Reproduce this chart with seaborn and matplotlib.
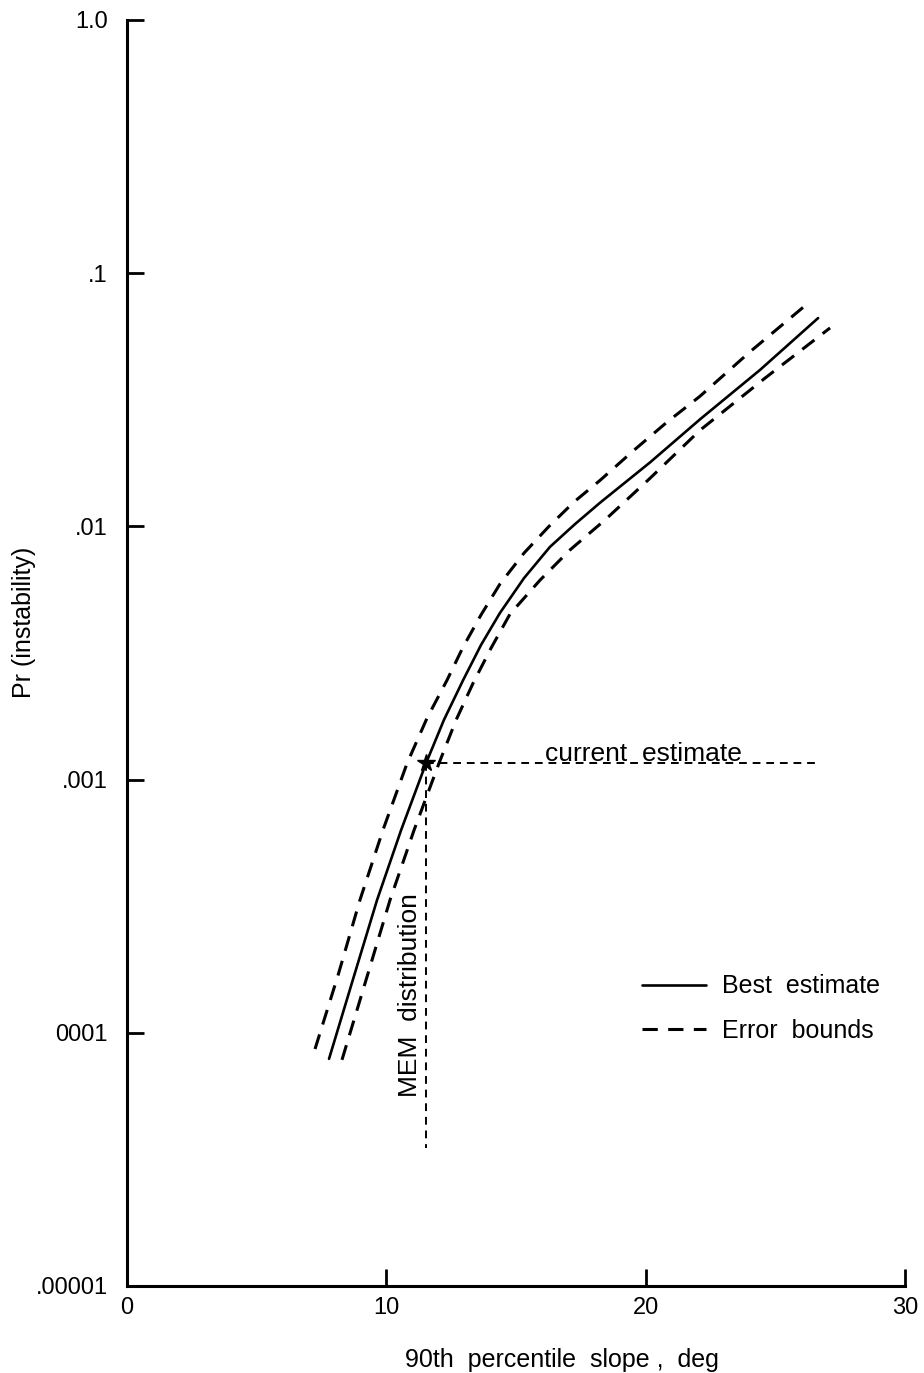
import matplotlib
matplotlib.use("Agg")
import matplotlib.pyplot as plt
from matplotlib.lines import Line2D
import pandas as pd
import seaborn as sns

# Best-estimate curve of instability probability vs. 90th percentile slope
best_slope = [7.79, 8.71, 9.64, 10.57, 11.53, 12.22, 12.96, 13.65, 14.38,
              15.31, 16.31, 17.27, 18.24, 20.17, 22.10, 24.41, 26.65]
best_pr = [7.89e-5, 1.62e-4, 3.34e-4, 6.32e-4, 1.16e-3, 1.72e-3, 2.47e-3,
           3.40e-3, 4.55e-3, 6.25e-3, 8.30e-3, 1.02e-2, 1.24e-2, 1.79e-2,
           2.65e-2, 4.15e-2, 6.65e-2]

# Upper error bound
upper_slope = [7.25, 8.14, 8.98, 9.87, 10.80, 11.57, 12.34, 12.96, 13.65,
               14.38, 15.31, 16.27, 17.24, 18.24, 19.55, 20.82, 22.10, 24.02,
               26.22]
upper_pr = [8.63e-5, 1.69e-4, 3.34e-4, 6.32e-4, 1.16e-3, 1.75e-3, 2.47e-3,
            3.34e-3, 4.47e-3, 5.92e-3, 7.85e-3, 1.00e-2, 1.25e-2, 1.52e-2,
            2.00e-2, 2.58e-2, 3.27e-2, 4.89e-2, 7.55e-2]

# Lower error bound
lower_slope = [8.29, 9.22, 10.14, 11.07, 12.03, 12.69, 13.35, 14.04, 14.77,
               15.93, 17.08, 18.43, 20.17, 22.10, 24.60, 27.11]
lower_pr = [7.82e-5, 1.62e-4, 3.34e-4, 6.32e-4, 1.16e-3, 1.72e-3, 2.41e-3,
            3.31e-3, 4.51e-3, 6.14e-3, 8.07e-3, 1.06e-2, 1.55e-2, 2.40e-2,
            3.85e-2, 6.08e-2]

# Current estimate (MEM distribution)
current_slope = 11.53
current_pr = 1.16e-3
current_line_end = 26.65
mem_line_bottom = 3.5e-5

x_ticks = [0, 10, 20, 30]
x_tick_labels = ["0", "10", "20", "30"]
y_ticks = [1e-5, 1e-4, 1e-3, 1e-2, 1e-1, 1.0]
y_tick_labels = [".00001", "0001", ".001", ".01", ".1", "1.0"]

sns.set_style("ticks")
FONT = ["Liberation Sans Narrow", "Liberation Sans", "DejaVu Sans"]
plt.rcParams["font.family"] = FONT
plt.rcParams["text.color"] = "black"
plt.rcParams["axes.labelcolor"] = "black"

fig = plt.figure(figsize=(9.24, 13.73), dpi=100)
ax = fig.add_axes([127 / 924, 87 / 1373, 778 / 924, 1266 / 1373])

best_df = pd.DataFrame({"slope": best_slope, "pr": best_pr})
upper_df = pd.DataFrame({"slope": upper_slope, "pr": upper_pr})
lower_df = pd.DataFrame({"slope": lower_slope, "pr": lower_pr})

sns.lineplot(data=best_df, x="slope", y="pr", ax=ax, color="black",
             linewidth=1.9, sort=False, estimator=None)
bound_style = (0, (5, 3.4))
sns.lineplot(data=upper_df, x="slope", y="pr", ax=ax, color="black",
             linewidth=2.2, linestyle=bound_style, sort=False, estimator=None)
sns.lineplot(data=lower_df, x="slope", y="pr", ax=ax, color="black",
             linewidth=2.2, linestyle=bound_style, sort=False, estimator=None)

# Guide lines from the current estimate
guide_style = (0, (4, 3))
ax.plot([current_slope, current_line_end], [current_pr, current_pr],
        color="black", linewidth=1.4, linestyle=guide_style)
ax.plot([current_slope, current_slope], [current_pr, mem_line_bottom],
        color="black", linewidth=1.4, linestyle=guide_style)
ax.plot([current_slope], [current_pr], marker="*", color="black",
        markersize=13, linestyle="none")

ax.text(19.9, current_pr * 1.02, "current  estimate", fontsize=19,
        ha="center", va="baseline", color="black")
ax.text(10.91, 1.41e-4, "MEM  distribution", fontsize=19, rotation=90,
        ha="center", va="center", color="black")

ax.set_yscale("log")
ax.set_xlim(0, 30)
ax.set_ylim(1e-5, 1.0)
ax.set_xticks(x_ticks)
ax.set_xticklabels(x_tick_labels)
ax.set_yticks(y_ticks)
ax.set_yticklabels(y_tick_labels)
ax.yaxis.set_minor_locator(matplotlib.ticker.NullLocator())
ax.tick_params(axis="both", direction="in", length=12, width=2,
               labelsize=17, colors="black")
ax.tick_params(axis="x", pad=8)
ax.tick_params(axis="y", pad=14)

for side in ["top", "right"]:
    ax.spines[side].set_visible(False)
for side in ["left", "bottom"]:
    ax.spines[side].set_linewidth(2.2)
    ax.spines[side].set_color("black")

ax.set_xlabel("90th  percentile  slope ,  deg", fontsize=18, color="black")
ax.xaxis.set_label_coords(0.559, -0.049)
ax.set_ylabel("Pr (instability)", fontsize=18, color="black")
ax.yaxis.set_label_coords(-0.117, 0.5245)

handles = [
    Line2D([], [], color="black", linewidth=1.9),
    Line2D([], [], color="black", linewidth=2.2, linestyle=bound_style),
]
leg = ax.legend(handles, ["Best  estimate", "Error  bounds"], loc="center left",
                bbox_to_anchor=(0.662, 0.219), frameon=False, fontsize=18,
                handlelength=2.56, handletextpad=0.64, labelspacing=0.83,
                borderpad=0, borderaxespad=0)
for t in leg.get_texts():
    t.set_color("black")

fig.savefig("out.png", dpi=100)
